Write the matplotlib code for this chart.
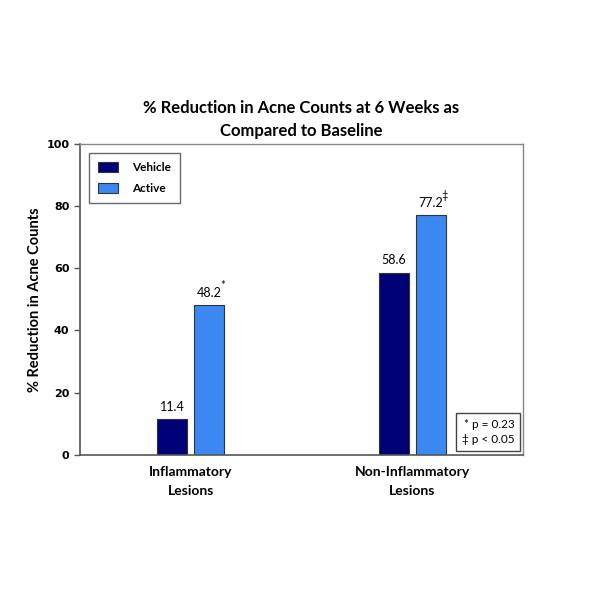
import numpy as np
import matplotlib.pyplot as plt

categories = ['Inflammatory\nLesions', 'Non-Inflammatory\nLesions']
vehicle = [11.4, 58.6]
active = [48.2, 77.2]
vehicle_marks = ['', '']
active_marks = ['*', '\u2021']

plt.rcParams['font.family'] = ['Lato', 'DejaVu Sans']

fig = plt.figure(figsize=(6, 6), dpi=100)
ax = fig.add_axes([0.133, 0.242, 0.739, 0.518])

x = np.array([0.5, 1.5])
w = 0.135
off = 0.083
b1 = ax.bar(x - off, vehicle, w, color='#000077', edgecolor='#333333', linewidth=0.8, label='Vehicle')
b2 = ax.bar(x + off, active, w, color='#3b88f2', edgecolor='#333333', linewidth=0.8, label='Active')

for bars, vals, marks in [(b1, vehicle, vehicle_marks), (b2, active, active_marks)]:
    for r, v, m in zip(bars, vals, marks):
        cx = r.get_x() + r.get_width() / 2
        ax.text(cx, v + 2.0, f'{v:.1f}', ha='center', va='bottom', fontsize=9)
        if m:
            ax.text(cx + 0.05, v + 4.5, m, ha='left', va='bottom', fontsize=8)

ax.set_xlim(0, 2)
ax.set_ylim(0, 100)
ax.set_yticks(np.arange(0, 101, 20))
ax.set_xticks(x)
ax.set_xticklabels(categories, fontsize=10, fontweight='bold', linespacing=1.75)
ax.tick_params(axis='x', length=0, pad=8)
ax.tick_params(axis='y', length=4, width=1, labelsize=8, color='#555555')
for lab in ax.get_yticklabels():
    lab.set_fontweight('bold')
    lab.set_family('DejaVu Sans')

for s in ['left', 'bottom']:
    ax.spines[s].set_color('#555555')
    ax.spines[s].set_linewidth(1.2)
for s in ['top', 'right']:
    ax.spines[s].set_color('#888888')
    ax.spines[s].set_linewidth(1.0)

ax.set_ylabel('% Reduction in Acne Counts', fontsize=10.5, fontweight='bold', labelpad=3)
ax.set_title('% Reduction in Acne Counts at 6 Weeks as\nCompared to Baseline', fontsize=12,
             fontweight='bold', pad=6, linespacing=1.5)

leg = ax.legend(loc='upper left', bbox_to_anchor=(0.008, 0.99), fancybox=False,
                edgecolor='#444444', prop={'size': 8.5, 'weight': 'bold'},
                handlelength=1.7, handleheight=1.0, borderpad=0.75, labelspacing=0.8,
                handletextpad=1.2)
leg.get_frame().set_linewidth(1.0)

ax.text(0.98, 0.03, '* p = 0.23\n\u2021 p < 0.05', transform=ax.transAxes, ha='right', va='bottom',
        fontsize=8.5, linespacing=1.5,
        bbox=dict(boxstyle='square,pad=0.5', facecolor='white', edgecolor='#444444', linewidth=1.0))

fig.savefig('out.png', dpi=100, facecolor='white')
